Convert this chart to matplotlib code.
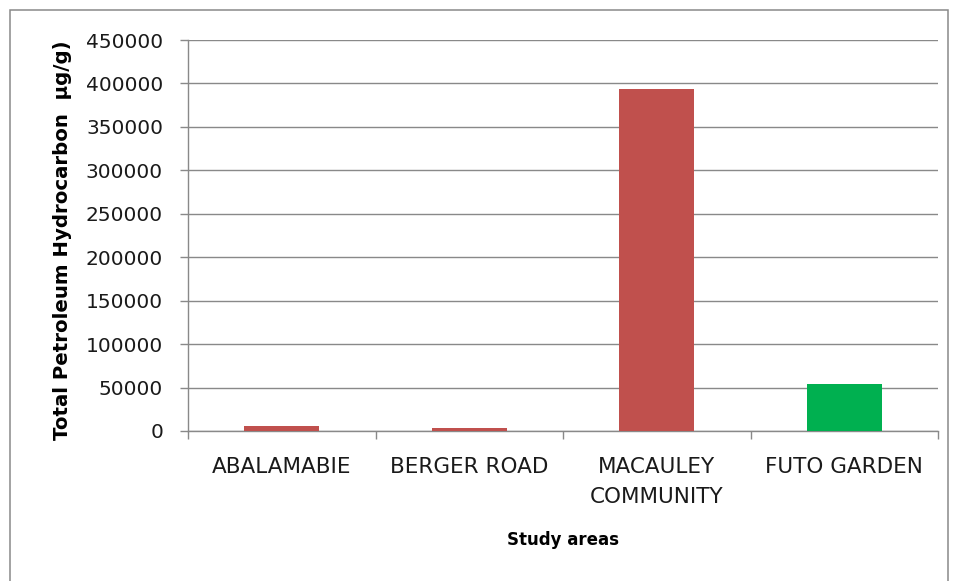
import matplotlib
matplotlib.use("Agg")
import matplotlib.pyplot as plt
from matplotlib.patches import Rectangle
from matplotlib.ticker import FixedLocator, NullFormatter

categories = ["ABALAMABIE", "BERGER ROAD", "MACAULEY\nCOMMUNITY", "FUTO GARDEN"]
tph_values = [5300, 3000, 394000, 54000]
bar_colors = ["#C0504D", "#C0504D", "#C0504D", "#00B050"]
y_ticks = [0, 50000, 100000, 150000, 200000, 250000, 300000, 350000, 400000, 450000]

plt.rcParams["font.family"] = ["DejaVu Sans"]
GRAY = "#898989"

W, H = 959, 581
fig = plt.figure(figsize=(W / 100, H / 100), dpi=100)
# chart-area border (open at the bottom edge of the image)
fig.patches.append(Rectangle((9.5 / W, -10 / H), 938.5 / W, (H - 9.5 + 10) / H,
                             transform=fig.transFigure, fill=False,
                             edgecolor=GRAY, linewidth=1.1))

ax = fig.add_axes([188 / W, 1 - 431 / H, 750 / W, 391 / H])
x = list(range(len(categories)))
ax.bar(x, tph_values, width=0.4, color=bar_colors, zorder=3)

ax.set_xlim(-0.5, len(categories) - 0.5)
ax.set_ylim(0, 450000)
ax.set_yticks(y_ticks)
ax.set_yticklabels([str(v) for v in y_ticks], fontsize=14.5, color="#1a1a1a")
ax.yaxis.grid(True, color=GRAY, linewidth=1.0, zorder=0)

ax.set_xticks(x)
ax.set_xticklabels(categories, fontsize=15.5, linespacing=1.62, color="#1a1a1a")
ax.xaxis.set_minor_locator(FixedLocator([i - 0.5 for i in range(len(categories) + 1)]))
ax.xaxis.set_minor_formatter(NullFormatter())
ax.tick_params(axis="x", which="major", length=0, pad=19)
ax.tick_params(axis="x", which="minor", length=6, color=GRAY, width=1.0)
ax.tick_params(axis="y", length=6, color=GRAY, width=1.0, pad=12)

for side in ["top", "right"]:
    ax.spines[side].set_visible(False)
for side in ["left", "bottom"]:
    ax.spines[side].set_color(GRAY)
    ax.spines[side].set_linewidth(1.0)

ax.set_xlabel("Study areas", fontsize=12, fontweight="bold", labelpad=17)
ax.set_ylabel("Total Petroleum Hydrocarbon  µg/g)", fontsize=14.2, fontweight="bold")
ax.yaxis.set_label_coords((72 - 188) / 750, 0.488)

fig.savefig("out.png", dpi=100)
